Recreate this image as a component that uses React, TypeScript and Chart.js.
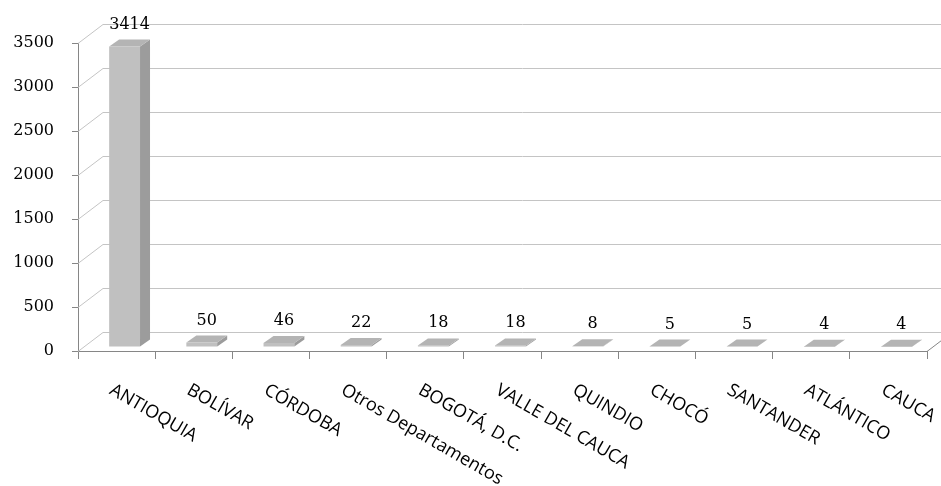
import React, { useEffect, useRef } from 'react';
import { Chart, registerables } from 'chart.js';

Chart.register(...registerables);

const categories = [
  'ANTIOQUIA',
  'BOLÍVAR',
  'CÓRDOBA',
  'Otros Departamentos',
  'BOGOTÁ, D.C.',
  'VALLE DEL CAUCA',
  'QUINDIO',
  'CHOCÓ',
  'SANTANDER',
  'ATLÁNTICO',
  'CAUCA',
];
const values = [3414, 50, 46, 22, 18, 18, 8, 5, 5, 4, 4];
const yMin = 0;
const yMax = 3500;
const yStep = 500;

// 3D look parameters
const WALL_DX = 25;
const WALL_DY = 19;
const BAR_OFF_X = 8;
const BAR_OFF_Y = 4;
const BAR_DX = 10;
const BAR_DY = 7;

const AXIS_COLOR = '#868686';
const GRID_COLOR = '#c4c4c4';
const NUM_FONT = '16px "DejaVu Serif"';
const CAT_FONT = '18px "Open Sans"';

const threeD = {
  id: 'threeD',
  beforeDatasetsDraw(chart: any) {
    const { ctx, chartArea, scales } = chart;
    const { left, right, bottom } = chartArea;
    const y = scales.y;
    ctx.save();
    ctx.lineWidth = 1;
    ctx.strokeStyle = GRID_COLOR;
    y.ticks.forEach((t: any) => {
      const py = Math.round(y.getPixelForValue(t.value)) + 0.5;
      ctx.beginPath();
      ctx.moveTo(left, py);
      ctx.lineTo(left + WALL_DX, py - WALL_DY);
      ctx.lineTo(right + WALL_DX, py - WALL_DY);
      ctx.stroke();
    });
    ctx.strokeStyle = AXIS_COLOR;
    ctx.beginPath();
    ctx.moveTo(right, Math.round(bottom) + 0.5);
    ctx.lineTo(right + WALL_DX, Math.round(bottom) + 0.5 - WALL_DY);
    ctx.stroke();
    ctx.restore();
  },
  afterDatasetsDraw(chart: any) {
    const { ctx } = chart;
    const meta = chart.getDatasetMeta(0);
    ctx.save();
    meta.data.forEach((bar: any, i: number) => {
      const p = bar.getProps(['x', 'y', 'base', 'width'], true);
      const x0 = p.x - p.width / 2 + BAR_OFF_X;
      const x1 = x0 + p.width;
      const yt = p.y - BAR_OFF_Y;
      const yb = p.base - BAR_OFF_Y;
      // front
      ctx.fillStyle = '#c0c0c0';
      ctx.fillRect(x0, yt, x1 - x0, yb - yt);
      // side
      ctx.fillStyle = '#9c9c9c';
      ctx.beginPath();
      ctx.moveTo(x1, yt);
      ctx.lineTo(x1 + BAR_DX, yt - BAR_DY);
      ctx.lineTo(x1 + BAR_DX, yb - BAR_DY);
      ctx.lineTo(x1, yb);
      ctx.closePath();
      ctx.fill();
      // top
      ctx.fillStyle = '#b4b4b4';
      ctx.beginPath();
      ctx.moveTo(x0, yt);
      ctx.lineTo(x1, yt);
      ctx.lineTo(x1 + BAR_DX, yt - BAR_DY);
      ctx.lineTo(x0 + BAR_DX, yt - BAR_DY);
      ctx.closePath();
      ctx.fill();
      // value label
      ctx.fillStyle = '#000';
      ctx.font = NUM_FONT;
      ctx.textAlign = 'center';
      ctx.textBaseline = 'alphabetic';
      ctx.fillText(String(values[i]), (x0 + x1) / 2 + 5, yt - BAR_DY - 11);
    });
    ctx.restore();
  },
  afterDraw(chart: any) {
    const { ctx, chartArea, scales } = chart;
    const x = scales.x;
    ctx.save();
    ctx.font = CAT_FONT;
    ctx.fillStyle = '#000';
    ctx.textAlign = 'left';
    ctx.textBaseline = 'top';
    categories.forEach((c, i) => {
      const px = x.getPixelForValue(i);
      ctx.save();
      ctx.translate(px - 1, chartArea.bottom + 30);
      ctx.rotate(Math.PI / 6);
      ctx.fillText(c, 0, 0);
      ctx.restore();
    });
    ctx.restore();
  },
};

export default function App() {
  const ref = useRef<HTMLCanvasElement>(null);
  useEffect(() => {
    document.body.style.margin = '0';
    const chart = new Chart(ref.current!, {
      type: 'bar',
      data: {
        labels: categories,
        datasets: [
          {
            data: values,
            backgroundColor: 'rgba(0,0,0,0)',
            borderWidth: 0,
            barPercentage: 0.4,
            categoryPercentage: 1,
          },
        ],
      },
      options: {
        responsive: false,
        animation: false,
        devicePixelRatio: 1,
        layout: { padding: { left: 0, right: 14, top: 43, bottom: 0 } },
        plugins: { legend: { display: false }, tooltip: { enabled: false } },
        scales: {
          x: {
            grid: { offset: true, drawOnChartArea: false, tickLength: 8, color: AXIS_COLOR },
            border: { color: AXIS_COLOR },
            ticks: { display: false },
            afterFit(s: any) {
              s.height = 135;
            },
          },
          y: {
            min: yMin,
            max: yMax,
            ticks: {
              stepSize: yStep,
              color: '#000',
              font: { family: 'DejaVu Serif', size: 16 },
              padding: 18,
              callback: (v: any) => String(v),
            },
            grid: { drawOnChartArea: false, tickLength: 6, color: AXIS_COLOR },
            border: { color: AXIS_COLOR },
            afterFit(s: any) {
              s.width = 78;
            },
          },
        },
      },
      plugins: [threeD],
    });
    return () => chart.destroy();
  }, []);
  return <canvas ref={ref} width={941} height={486} />;
}
